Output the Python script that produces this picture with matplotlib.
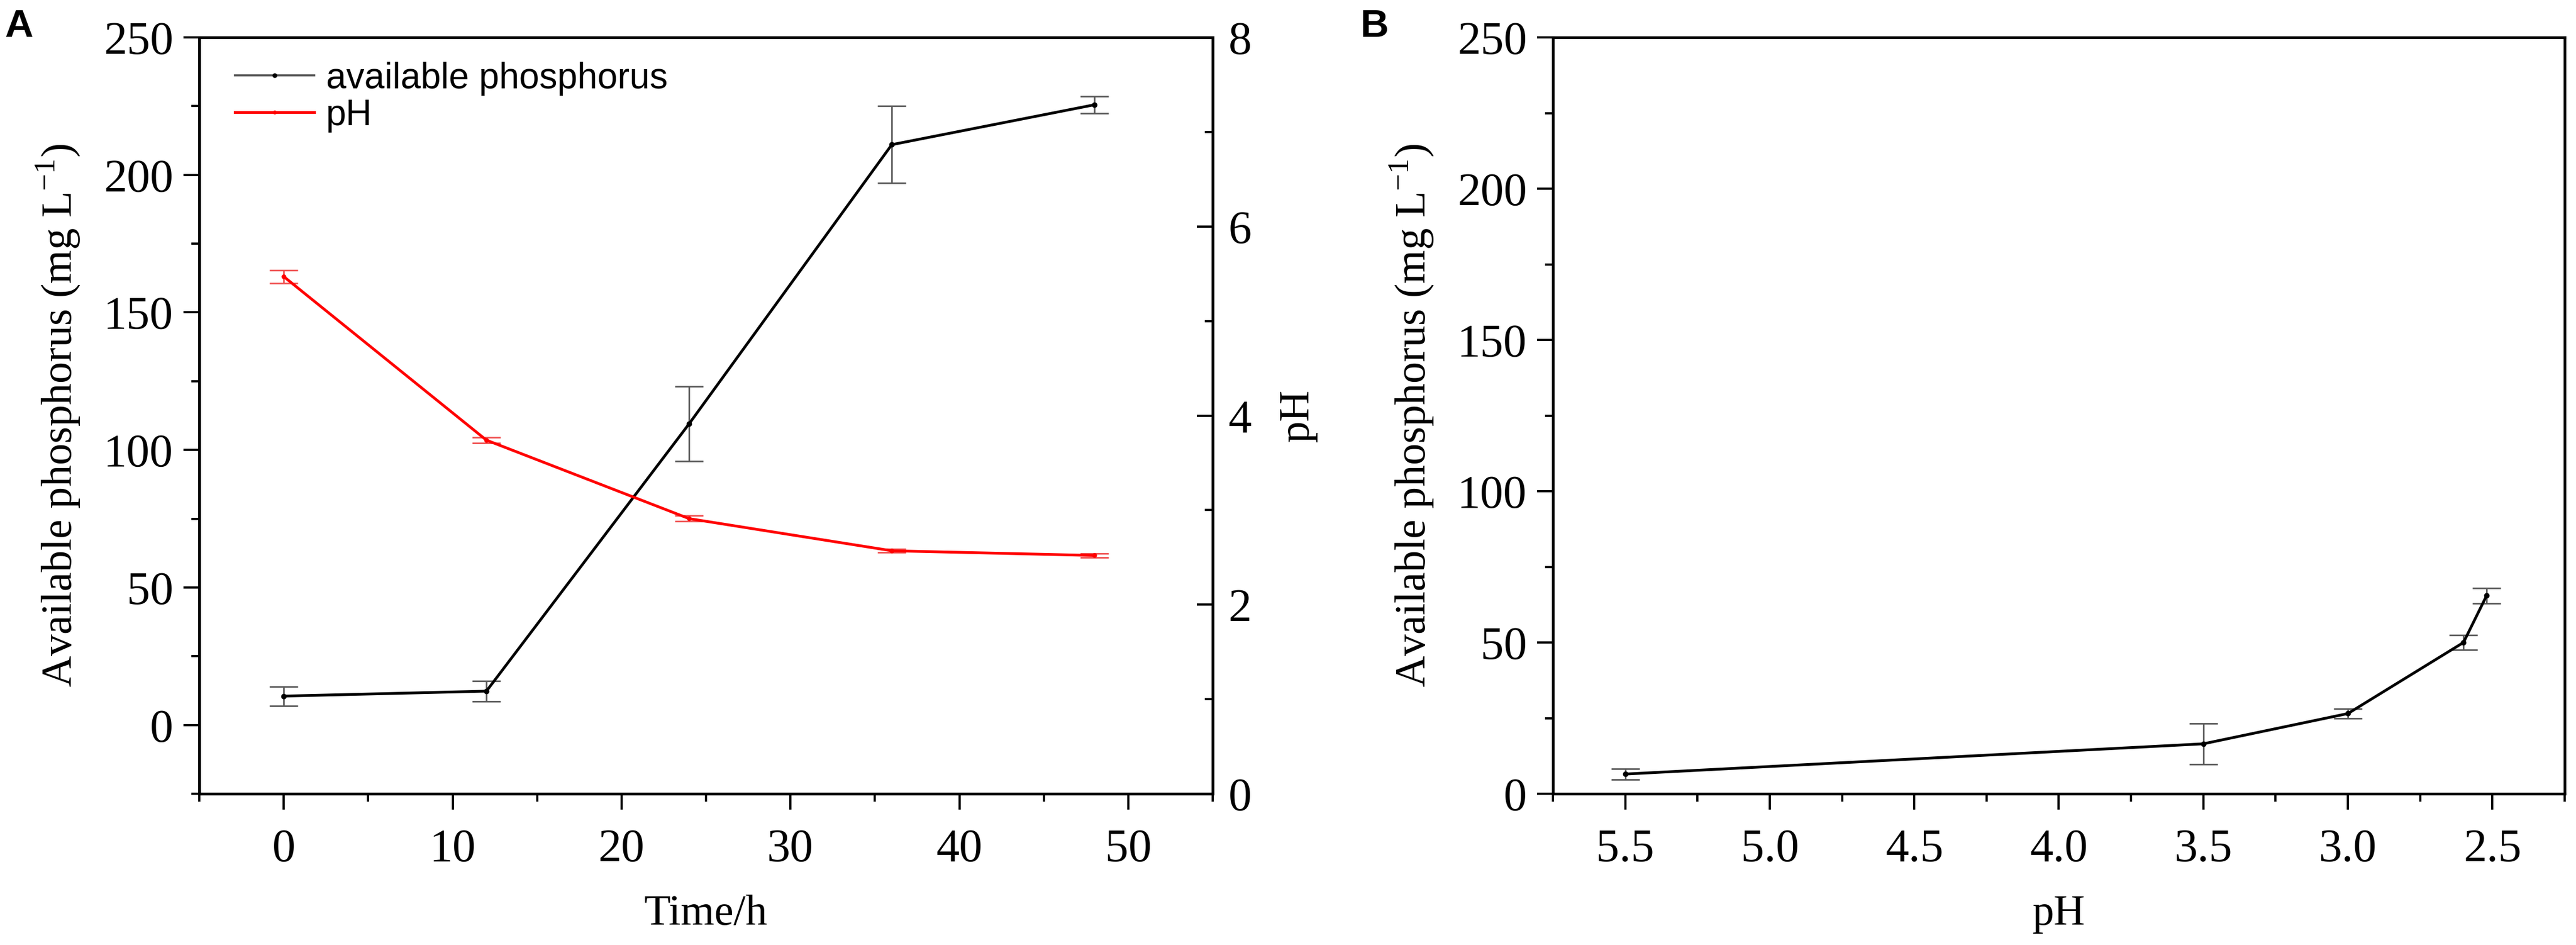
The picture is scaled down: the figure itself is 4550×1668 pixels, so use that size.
import matplotlib
matplotlib.use('Agg')
import matplotlib.pyplot as plt
from matplotlib.ticker import MultipleLocator, FormatStrFormatter
from matplotlib.lines import Line2D

# ---- Data ----
time_h = [0, 12, 24, 36, 48]
ap_time = [10.5, 12.3, 109.5, 211.0, 225.5]
ap_time_err = [3.5, 3.7, 13.6, 14.0, 3.0]
ph_time = [5.47, 3.74, 2.91, 2.57, 2.52]
ph_time_err = [0.07, 0.03, 0.03, 0.02, 0.02]

ph_b = [5.5, 3.5, 3.0, 2.6, 2.52]
ap_b = [6.5, 16.5, 26.5, 50.0, 65.5]
ap_b_err = [1.8, 6.7, 1.5, 2.4, 2.5]

legend_labels = ['available phosphorus', 'pH']

SERIF = 'Liberation Serif'
SANS = 'Liberation Sans'
TICK_FS = 59
LABEL_FS = 55
SPINE_LW = 3.4
LINE_LW = 3.5
MAJ_LEN, MIN_LEN, TICK_W = 20, 10, 2.8

fig = plt.figure(figsize=(45.5, 16.68), dpi=100)
W, H = 4550, 1668

def rect(l, r, t, b):
    return [l / W, 1 - b / H, (r - l) / W, (b - t) / H]

def style_ticklabels(ax):
    for lab in ax.get_xticklabels() + ax.get_yticklabels():
        lab.set_fontfamily(SERIF)
        lab.set_fontsize(TICK_FS)

# ---------------- Panel A ----------------
axA = fig.add_axes(rect(352, 2142, 66, 1401))
axA2 = axA.twinx()

axA.errorbar(time_h, ap_time, yerr=ap_time_err, color='black', lw=LINE_LW,
             marker='o', ms=6, mfc='black', mec='black',
             ecolor='#5a5a5a', elinewidth=2.0, capsize=18, capthick=2.0, zorder=3)
axA2.errorbar(time_h, ph_time, yerr=ph_time_err, color='#ff0000', lw=LINE_LW,
              marker='o', ms=5, mfc='#ff0000', mec='#ff0000',
              ecolor='#f05050', elinewidth=2.0, capsize=18, capthick=2.0, zorder=3)

axA.set_xlim(-5, 55)
axA.set_ylim(-25, 250)
axA2.set_ylim(0, 8)
axA.xaxis.set_major_locator(MultipleLocator(10))
axA.xaxis.set_minor_locator(MultipleLocator(5))
axA.yaxis.set_minor_locator(MultipleLocator(25))
axA.set_yticks([0, 50, 100, 150, 200, 250])
axA2.yaxis.set_major_locator(MultipleLocator(2))
axA2.yaxis.set_minor_locator(MultipleLocator(1))

axA.tick_params(axis='both', which='major', direction='out', length=MAJ_LEN, width=TICK_W)
axA.tick_params(axis='both', which='minor', direction='out', length=MIN_LEN, width=TICK_W)
axA.tick_params(axis='x', which='major', pad=24)
axA.tick_params(axis='y', which='major', pad=13)
axA.tick_params(right=False, top=False, which='both')
axA2.tick_params(axis='y', which='major', direction='in', length=MAJ_LEN, width=TICK_W, pad=20)
axA2.tick_params(axis='y', which='minor', direction='in', length=MIN_LEN, width=TICK_W)

for ax in (axA, axA2):
    for s in ax.spines.values():
        s.set_linewidth(SPINE_LW)
style_ticklabels(axA)
style_ticklabels(axA2)

axA.set_xlabel('Time/h', fontfamily=SERIF, fontsize=LABEL_FS, labelpad=30)
axA.set_ylabel('Available phosphorus (mg L$^{\\mathregular{-1}}$)', fontfamily=SERIF,
               fontsize=LABEL_FS, labelpad=28)
axA2.set_ylabel('pH', fontfamily=SERIF, fontsize=LABEL_FS, labelpad=34)

handles = [
    Line2D([], [], color='#555555', lw=2.6, marker='o', ms=5, mfc='black', mec='black'),
    Line2D([], [], color='#ff0000', lw=LINE_LW, marker='o', ms=4, mfc='#ff0000', mec='#ff0000'),
]
axA2.legend(handles, legend_labels, loc='upper left', bbox_to_anchor=(0.035, 0.968),
            frameon=False, borderpad=0, borderaxespad=0, handlelength=2.2,
            handletextpad=0.33, labelspacing=0.08,
            prop={'family': SANS, 'size': 46})

# ---------------- Panel B ----------------
axB = fig.add_axes(rect(2743, 4530, 66, 1401))
axB.errorbar(ph_b, ap_b, yerr=ap_b_err, color='black', lw=LINE_LW,
             marker='o', ms=6, mfc='black', mec='black',
             ecolor='#5a5a5a', elinewidth=2.0, capsize=18, capthick=2.0, zorder=3)
axB.set_xlim(5.75, 2.25)
axB.set_ylim(0, 250)
axB.xaxis.set_major_locator(MultipleLocator(0.5))
axB.xaxis.set_minor_locator(MultipleLocator(0.25))
axB.yaxis.set_major_locator(MultipleLocator(50))
axB.yaxis.set_minor_locator(MultipleLocator(25))
axB.xaxis.set_major_formatter(FormatStrFormatter('%.1f'))
axB.tick_params(axis='both', which='major', direction='out', length=MAJ_LEN, width=TICK_W)
axB.tick_params(axis='both', which='minor', direction='out', length=MIN_LEN, width=TICK_W)
axB.tick_params(axis='x', which='major', pad=24)
axB.tick_params(axis='y', which='major', pad=13)
for s in axB.spines.values():
    s.set_linewidth(SPINE_LW)
style_ticklabels(axB)
axB.set_xlabel('pH', fontfamily=SERIF, fontsize=LABEL_FS, labelpad=30)
axB.set_ylabel('Available phosphorus (mg L$^{\\mathregular{-1}}$)', fontfamily=SERIF,
               fontsize=LABEL_FS, labelpad=28)

# panel letters
fig.text(8 / W, 1 - 15 / H, 'A', fontfamily=SANS, fontweight='bold', fontsize=50,
         ha='left', va='top')
fig.text(2402 / W, 1 - 15 / H, 'B', fontfamily=SANS, fontweight='bold', fontsize=50,
         ha='left', va='top')

fig.savefig('out.png', dpi=100)
